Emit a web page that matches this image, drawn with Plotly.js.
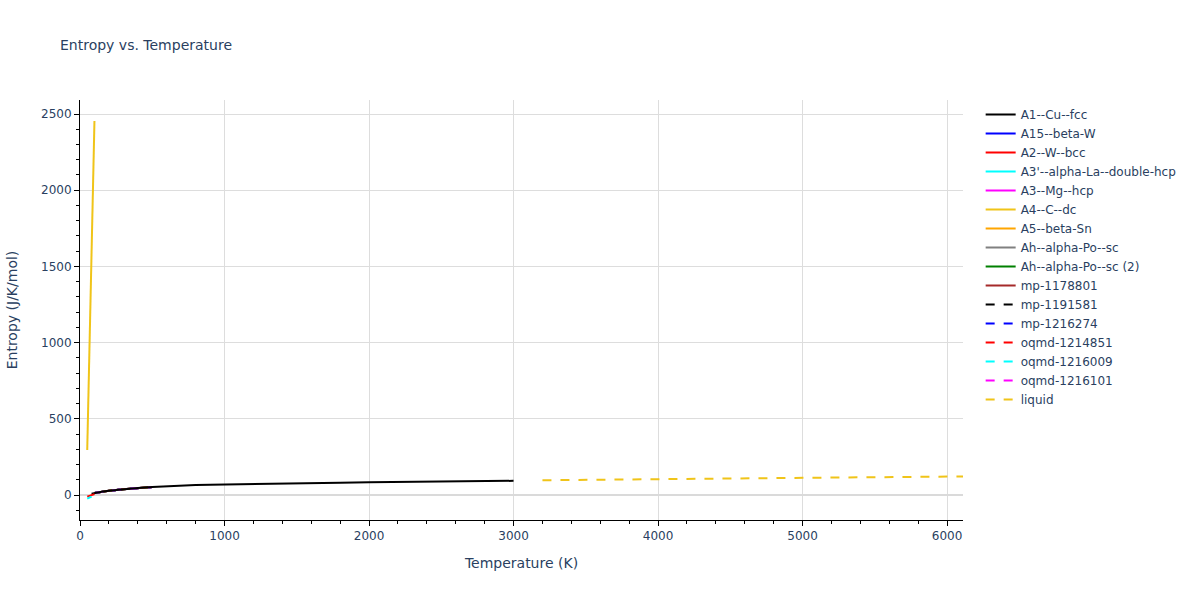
<!DOCTYPE html>
<html>
<head>
<meta charset="utf-8">
<script src="https://cdn.plot.ly/plotly-3.0.1.min.js"></script>
<style>html,body{margin:0;padding:0;background:#fff;}#chart{width:1200px;height:600px;}</style>
</head>
<body>
<div id="chart"></div>
<script>
// Data
const cuT = [80, 100, 150, 200, 300, 400, 500, 600, 700, 800, 900, 1000, 1200, 1400, 1600, 1800, 2000, 2200, 2400, 2600, 2800, 3000];
const cuS = [8, 13, 21, 28, 38, 46, 52, 58, 62, 65, 67, 69, 73, 76, 79, 81, 84, 86, 88, 89, 91, 93];

// traces hidden beneath the A1--Cu--fcc curve
const hiddenT = [100, 150, 200, 300, 400, 500];
const hiddenS = [13, 21, 28, 38, 46, 52];

const w_bccT = [50, 100];
const w_bccS = [-11, 6];

const laT = [50, 80];
const laS = [-24, -11];

const cT = [50, 100];
const cS = [295, 2454];

const liquidT = [3200, 3500, 4000, 4500, 5000, 5500, 6000, 6110];
const liquidS = [97, 100, 104, 109, 113, 117, 121, 122];

const names = ["A1--Cu--fcc","A15--beta-W","A2--W--bcc","A3'--alpha-La--double-hcp","A3--Mg--hcp","A4--C--dc","A5--beta-Sn","Ah--alpha-Po--sc","Ah--alpha-Po--sc (2)","mp-1178801","mp-1191581","mp-1216274","oqmd-1214851","oqmd-1216009","oqmd-1216101","liquid"];
const colors = ["black","blue","red","cyan","magenta","#F0C419","orange","gray","green","brown","black","blue","red","cyan","magenta","#F0C419"];
const dashes = ["solid","solid","solid","solid","solid","solid","solid","solid","solid","solid","dash","dash","dash","dash","dash","dash"];
const xs = [cuT, hiddenT, w_bccT, laT, hiddenT, cT, hiddenT, hiddenT, hiddenT, hiddenT, hiddenT, hiddenT, hiddenT, hiddenT, hiddenT, liquidT];
const ys = [cuS, hiddenS, w_bccS, laS, hiddenS, cS, hiddenS, hiddenS, hiddenS, hiddenS, hiddenS, hiddenS, hiddenS, hiddenS, hiddenS, liquidS];
// draw order: hidden traces first, then Cu on top, then the visible short ones
const drawOrder = [1, 4, 6, 7, 8, 9, 10, 11, 12, 13, 14, 0, 2, 3, 5, 15];

const traces = drawOrder.map(i => ({
  type: 'scatter', mode: 'lines', name: names[i],
  x: xs[i], y: ys[i], legendrank: i + 1,
  line: {color: colors[i], dash: dashes[i], width: 2}
}));

const layout = {
  width: 1200, height: 600,
  title: {text: 'Entropy vs. Temperature', x: 0.05, font: {size: 14}},
  font: {family: 'Verdana, "DejaVu Sans", sans-serif', color: '#2a3f5f', size: 12},
  paper_bgcolor: 'white', plot_bgcolor: 'white',
  margin: {l: 80, r: 237, t: 100, b: 80},
  xaxis: {
    title: {text: 'Temperature (K)', standoff: 15},
    automargin: true,
    range: [0, 6110],
    showgrid: true, gridcolor: '#dddddd',
    showline: true, linecolor: 'black', linewidth: 1,
    ticks: 'outside', ticklen: 5, tickcolor: 'black',
    dtick: 1000,
    minor: {ticks: 'outside', dtick: 200, ticklen: 3, tickcolor: 'black', showgrid: false},
    zeroline: false
  },
  yaxis: {
    title: {text: 'Entropy (J/K/mol)', standoff: 20},
    automargin: true,
    range: [-164, 2592],
    showgrid: true, gridcolor: '#dddddd',
    showline: true, linecolor: 'black', linewidth: 1,
    ticks: 'outside', ticklen: 5, tickcolor: 'black',
    dtick: 500,
    minor: {ticks: 'outside', dtick: 100, ticklen: 3, tickcolor: 'black', showgrid: false},
    zeroline: true, zerolinecolor: '#dadada', zerolinewidth: 2
  },
  legend: {x: 1.02, y: 1, font: {size: 12}},
  showlegend: true
};

Plotly.newPlot('chart', traces, layout, {displayModeBar: false});
</script>
</body>
</html>
